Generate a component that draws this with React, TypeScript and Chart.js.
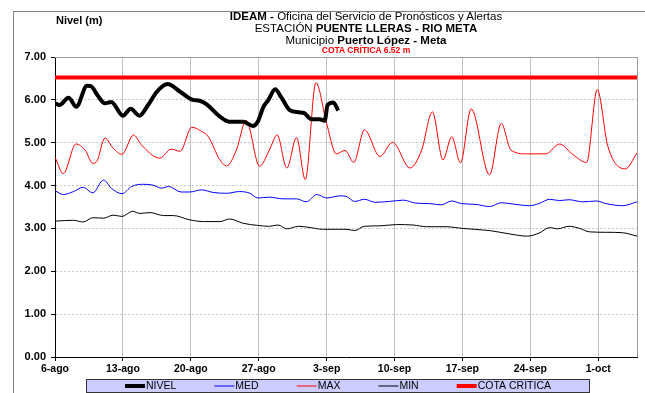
import React, { useEffect, useRef } from 'react';
import { Chart, registerables } from 'chart.js';

Chart.register(...registerables);

const FONT = "'Liberation Sans', Arial, Helvetica, sans-serif";

// x axis: days since 6-ago
const xTickDays = [0, 7, 14, 21, 28, 35, 42, 49, 56];
const xTickLabels = ['6-ago', '13-ago', '20-ago', '27-ago', '3-sep', '10-sep', '17-sep', '24-sep', '1-oct'];
const yTickValues = [0, 1, 2, 3, 4, 5, 6, 7];
const X_MIN = 0;
const X_MAX = 60;

const nivelDays = [0, 0.45, 1.4, 2.2, 3.3, 3.7, 4.4, 5.15, 5.8, 7.0, 7.8, 8.7, 9.6, 10.5, 11.6, 12.9, 14.2, 14.9, 15.6, 17.0, 18.0, 19.4, 20.4, 20.9, 21.5, 22.0, 22.7, 23.3, 24.2, 25.1, 25.7, 26.4, 27.3, 27.8, 28.1, 28.7, 29.2];
const nivelValues = [5.92, 5.88, 6.05, 5.84, 6.33, 6.32, 6.1, 5.92, 5.95, 5.63, 5.79, 5.63, 5.88, 6.19, 6.37, 6.19, 6.0, 5.98, 5.9, 5.61, 5.49, 5.49, 5.39, 5.49, 5.84, 6.0, 6.25, 6.07, 5.76, 5.71, 5.69, 5.55, 5.55, 5.51, 5.88, 5.94, 5.75];

const medDays = [0, 0.86, 1.9, 2.9, 3.9, 5.0, 5.8, 6.9, 7.9, 9.1, 10.1, 11.0, 11.7, 13.0, 13.9, 15.1, 16.3, 17.7, 19.0, 20.1, 20.9, 22.1, 23.5, 24.9, 25.9, 27.0, 28.0, 29.4, 30.0, 30.9, 31.9, 33.0, 34.5, 35.9, 37.2, 38.6, 39.8, 40.9, 41.9, 43.4, 44.8, 46.0, 47.2, 48.9, 49.9, 51.0, 52.0, 53.0, 54.4, 55.8, 56.8, 58.5, 60];
const medValues = [3.88, 3.79, 3.86, 3.96, 3.83, 4.13, 3.94, 3.81, 3.98, 4.03, 4.01, 3.94, 3.98, 3.85, 3.85, 3.9, 3.84, 3.82, 3.86, 3.82, 3.71, 3.73, 3.69, 3.69, 3.62, 3.79, 3.71, 3.76, 3.75, 3.63, 3.68, 3.61, 3.63, 3.66, 3.59, 3.58, 3.55, 3.64, 3.58, 3.56, 3.51, 3.6, 3.57, 3.53, 3.58, 3.68, 3.65, 3.67, 3.62, 3.64, 3.58, 3.53, 3.62];

const maxDays = [0, 0.86, 2.16, 3.1, 3.9, 4.3, 5.15, 6.0, 6.9, 8.1, 8.9, 10.8, 12.0, 12.9, 14.1, 15.0, 15.8, 17.0, 17.7, 18.7, 19.7, 21.1, 22.1, 22.9, 23.9, 24.9, 25.8, 26.9, 28.0, 29.0, 29.9, 30.8, 31.9, 33.5, 34.8, 36.6, 37.8, 38.9, 40.0, 40.9, 41.8, 42.9, 44.8, 46.0, 47.0, 48.6, 50.6, 52.0, 53.4, 54.8, 55.9, 57.0, 58.8, 60];
const maxValues = [4.66, 4.28, 4.97, 4.83, 4.52, 4.56, 5.11, 4.87, 4.73, 5.18, 4.95, 4.64, 4.85, 4.8, 5.36, 5.28, 5.14, 4.6, 4.46, 4.83, 5.52, 4.45, 4.83, 5.18, 4.41, 5.12, 4.14, 6.4, 5.45, 4.74, 4.82, 4.54, 5.3, 4.68, 5.01, 4.41, 4.83, 5.72, 4.6, 5.14, 4.53, 5.79, 4.25, 5.45, 4.83, 4.74, 4.74, 4.97, 4.72, 4.54, 6.24, 4.91, 4.39, 4.76];

const minDays = [0, 1.9, 2.9, 3.9, 5.0, 6.0, 6.9, 8.0, 8.75, 9.8, 11.2, 12.2, 13.9, 15.3, 17.0, 18.0, 19.4, 20.9, 22.1, 23.0, 23.9, 25.1, 26.3, 27.6, 29.0, 30.0, 30.9, 31.9, 33.5, 35.2, 36.9, 38.3, 40.3, 42.0, 44.8, 46.9, 48.7, 49.9, 51.0, 51.8, 53.0, 54.1, 55.1, 56.8, 58.5, 60];
const minValues = [3.17, 3.19, 3.15, 3.25, 3.24, 3.31, 3.28, 3.4, 3.35, 3.37, 3.3, 3.3, 3.2, 3.16, 3.16, 3.22, 3.12, 3.07, 3.05, 3.08, 2.99, 3.05, 3.02, 2.98, 2.98, 2.98, 2.95, 3.05, 3.06, 3.09, 3.08, 3.04, 3.04, 3.0, 2.95, 2.87, 2.82, 2.89, 3.02, 2.99, 3.05, 3.0, 2.92, 2.91, 2.9, 2.82];

const cotaDays = [0, 60];
const cotaValues = [6.52, 6.52];

const toPoints = (days: number[], values: number[]) => days.map((d, i) => ({ x: d, y: values[i] }));

const plotFramePlugin = {
  id: 'plotFrame',
  beforeDatasetsDraw(chart: any) {
    const { ctx, chartArea } = chart;
    ctx.save();
    ctx.strokeStyle = '#a0a0a0';
    ctx.lineWidth = 1;
    ctx.beginPath();
    ctx.moveTo(chartArea.left, Math.round(chartArea.top) + 0.5);
    ctx.lineTo(chartArea.right, Math.round(chartArea.top) + 0.5);
    ctx.moveTo(Math.round(chartArea.right) + 0.5, chartArea.top);
    ctx.lineTo(Math.round(chartArea.right) + 0.5, chartArea.bottom);
    ctx.stroke();
    ctx.restore();
  },
};

const legendBoxPlugin = {
  id: 'legendBox',
  afterDraw(chart: any) {
    const { ctx, chartArea } = chart;
    const top = chartArea.bottom + 22;
    const h = 13;
    const left = chartArea.left + 31;
    const right = chartArea.right - 48;
    ctx.save();
    ctx.fillStyle = '#ccccff';
    ctx.fillRect(left, top, right - left, h);
    ctx.strokeStyle = '#333333';
    ctx.lineWidth = 1;
    ctx.strokeRect(Math.round(left) + 0.5, Math.round(top) + 0.5, right - left, h);
    ctx.font = `10.5px ${FONT}`;
    ctx.textBaseline = 'middle';
    const cy = top + h / 2 + 0.5;
    let x = chartArea.left + 70;
    const gap = 38;
    chart.data.datasets.forEach((ds: any) => {
      ctx.strokeStyle = ds.borderColor;
      ctx.lineWidth = ds.borderWidth;
      ctx.beginPath();
      ctx.moveTo(x, cy);
      ctx.lineTo(x + 20, cy);
      ctx.stroke();
      ctx.fillStyle = '#000';
      ctx.fillText(ds.label, x + 21, cy);
      x += 21 + ctx.measureText(ds.label).width + gap;
    });
    ctx.restore();
  },
};

export default function App() {
  const canvasRef = useRef<HTMLCanvasElement | null>(null);

  useEffect(() => {
    const canvas = canvasRef.current;
    if (!canvas) return;
    const common = { pointRadius: 0, pointHoverRadius: 0, fill: false, cubicInterpolationMode: 'monotone' as const };
    const chart = new Chart(canvas, {
      type: 'line',
      data: {
        datasets: [
          { label: 'NIVEL', data: toPoints(nivelDays, nivelValues), borderColor: '#000000', borderWidth: 4, ...common },
          { label: 'MED', data: toPoints(medDays, medValues), borderColor: '#0000ff', borderWidth: 1, ...common },
          { label: 'MAX', data: toPoints(maxDays, maxValues), borderColor: '#ff0000', borderWidth: 1, ...common },
          { label: 'MIN', data: toPoints(minDays, minValues), borderColor: '#000000', borderWidth: 1, ...common },
          { label: 'COTA CRITICA', data: toPoints(cotaDays, cotaValues), borderColor: '#ff0000', borderWidth: 4, pointRadius: 0, fill: false, tension: 0 },
        ],
      },
      options: {
        responsive: false,
        animation: false,
        devicePixelRatio: 1,
        layout: { padding: { left: 0, right: 8, top: 57, bottom: 0 } },
        plugins: { legend: { display: false }, title: { display: false }, tooltip: { enabled: false } },
        scales: {
          x: {
            type: 'linear',
            min: X_MIN,
            max: X_MAX,
            afterBuildTicks: (s: any) => { s.ticks = xTickDays.map((v) => ({ value: v })); },
            afterFit: (s: any) => { s.height = 36; },
            ticks: {
              autoSkip: false,
              maxRotation: 0,
              padding: 2,
              color: '#000',
              font: { family: FONT, size: 10.5, weight: 'bold' },
              callback: (v: any) => { const i = xTickDays.indexOf(Number(v)); return i >= 0 ? xTickLabels[i] : ''; },
            },
            grid: { color: '#c0c0c0', lineWidth: 1, drawTicks: true, tickLength: 4, tickColor: '#000' },
            border: { color: '#000', width: 1 },
          },
          y: {
            type: 'linear',
            min: 0,
            max: 7,
            afterBuildTicks: (s: any) => { s.ticks = yTickValues.map((v) => ({ value: v })); },
            afterFit: (s: any) => { s.width = 55; },
            ticks: {
              padding: 5,
              color: '#000',
              font: { family: FONT, size: 11, weight: 'bold' },
              callback: (v: any) => Number(v).toFixed(2),
            },
            grid: { color: '#c8c8c8', lineWidth: 1, drawTicks: true, tickLength: 4, tickColor: '#000' },
            border: { color: '#000', width: 1, dash: [2, 2] },
          },
        },
      } as any,
      plugins: [plotFramePlugin, legendBoxPlugin],
    });
    return () => chart.destroy();
  }, []);

  const titleLine: React.CSSProperties = { position: 'absolute', left: 0, width: 732, textAlign: 'center', whiteSpace: 'nowrap', fontFamily: FONT, color: '#000' };

  return (
    <div style={{ position: 'fixed', left: 0, top: 0, width: 645, height: 393, overflow: 'hidden', background: '#fff' }}>
      <div style={{ position: 'absolute', left: 13, top: 11, width: 700, height: 500, borderLeft: '1px solid #808080', borderTop: '1px solid #808080' }} />
      <canvas ref={canvasRef} width={645} height={393} style={{ position: 'absolute', left: 0, top: 0, width: 645, height: 393 }} />
      <div style={{ position: 'absolute', left: 56, top: 14, fontFamily: FONT, fontWeight: 'bold', fontSize: 11, whiteSpace: 'nowrap' }}>Nivel (m)</div>
      <div style={{ ...titleLine, top: 10, fontSize: 11.5, lineHeight: '13px' }}><b>IDEAM -</b> Oficina del Servicio de Pronósticos y Alertas</div>
      <div style={{ ...titleLine, top: 22, fontSize: 11.5, lineHeight: '13px' }}>ESTACIÓN <b>PUENTE LLERAS - RIO META</b></div>
      <div style={{ ...titleLine, top: 34, fontSize: 11.5, lineHeight: '13px' }}>Municipio <b>Puerto López - Meta</b></div>
      <div style={{ ...titleLine, top: 45, fontSize: 8.5, lineHeight: '11px', color: '#ff0000', fontWeight: 'bold' }}>COTA CRÍTICA 6.52 m</div>
    </div>
  );
}
